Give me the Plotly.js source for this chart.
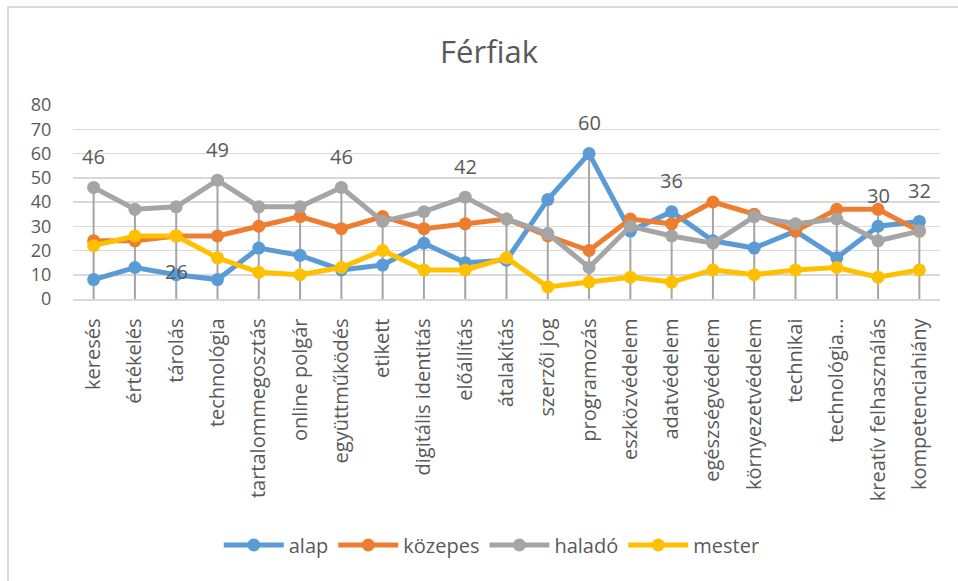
<!DOCTYPE html>
<html>
<head>
<meta charset="utf-8">
<script src="https://cdn.plot.ly/plotly-3.0.1.min.js"></script>
<style>
  html, body { margin: 0; padding: 0; background: #fff; }
  #wrap { position: relative; width: 958px; height: 581px; }
  #chart { width: 958px; height: 581px; }
  #frame { position: absolute; left: 7px; top: 6px; right: -5px; bottom: -5px;
           border-left: 2px solid #d9d9d9; border-top: 2px solid #d9d9d9; pointer-events: none; }
</style>
</head>
<body>
<div id="wrap"><div id="chart"></div><div id="frame"></div></div>
<script>
const categories = ["keresés", "értékelés", "tárolás", "technológia", "tartalommegosztás",
  "online polgár", "együttműködés", "etikett", "digitális identitás", "előállítás",
  "átalakítás", "szerzői jog", "programozás", "eszközvédelem", "adatvédelem",
  "egészségvédelem", "környezetvédelem", "technikai", "technológia…",
  "kreatív felhasználás", "kompetenciahiány"];

const alap     = [8, 13, 10, 8, 21, 18, 12, 14, 23, 15, 16, 41, 60, 28, 36, 24, 21, 28, 17, 30, 32];
const kozepes  = [24, 24, 26, 26, 30, 34, 29, 34, 29, 31, 33, 26, 20, 33, 31, 40, 35, 28, 37, 37, 28];
const halado   = [46, 37, 38, 49, 38, 38, 46, 32, 36, 42, 33, 27, 13, 30, 26, 23, 34, 31, 33, 24, 28];
const mester   = [22, 26, 26, 17, 11, 10, 13, 20, 12, 12, 17, 5, 7, 9, 7, 12, 10, 12, 13, 9, 12];

const seriesNames = ["alap", "közepes", "haladó", "mester"];

// data labels shown on the chart
const labelCategories = ["keresés", "tárolás", "technológia", "együttműködés", "előállítás",
  "programozás", "adatvédelem", "kreatív felhasználás", "kompetenciahiány"];
const labelValues = [46, 26, 49, 46, 42, 60, 36, 30, 32];

const colors = ["#5B9BD5", "#ED7D31", "#A5A5A5", "#FFC000"];
const seriesData = [alap, kozepes, halado, mester];

// drop lines from the highest point of each category down to the axis
const dropX = [], dropY = [];
categories.forEach((c, i) => {
  const m = Math.max(alap[i], kozepes[i], halado[i], mester[i]);
  dropX.push(c, c, null);
  dropY.push(0, m, null);
});

const traces = [{
  x: dropX, y: dropY, type: "scatter", mode: "lines",
  line: { color: "#A5A5A5", width: 2 }, showlegend: false, hoverinfo: "skip"
}];
seriesData.forEach((d, k) => {
  traces.push({
    x: categories, y: d, name: seriesNames[k], type: "scatter", mode: "lines+markers",
    line: { color: colors[k], width: 5 },
    marker: { color: colors[k], size: 13 }
  });
});

const annotations = labelCategories.map((c, i) => ({
  x: c, y: labelValues[i], xref: "x", yref: "y",
  text: String(labelValues[i]), showarrow: false,
  yshift: labelValues[i] === 26 ? -36 : 31,
  font: { family: "Open Sans", size: 20, color: "#595959" }
}));

const layout = {
  width: 958, height: 581,
  margin: { l: 73, r: 18, t: 105, b: 282 },
  paper_bgcolor: "#fff", plot_bgcolor: "#fff",
  font: { family: "Open Sans", color: "#595959" },
  title: { text: "Férfiak", x: 489 / 958, xref: "container", xanchor: "center",
           y: 1 - 52 / 581, yref: "container", yanchor: "middle",
           font: { family: "Open Sans", size: 31, color: "#595959" } },
  xaxis: {
    type: "category", tickangle: -90, showgrid: false, zeroline: false,
    showline: true, linecolor: "#d9d9d9", linewidth: 1.5,
    ticks: "outside", ticklen: 10, tickcolor: "rgba(0,0,0,0)",
    tickfont: { family: "Open Sans", size: 20, color: "#595959" },
    range: [-0.5, categories.length - 0.5]
  },
  yaxis: {
    range: [0, 80], dtick: 10, showgrid: true, gridcolor: "#d9d9d9", gridwidth: 1.5,
    zeroline: false, showline: false,
    ticks: "outside", ticklen: 17, tickcolor: "rgba(0,0,0,0)",
    tickfont: { family: "Open Sans", size: 18, color: "#595959" }
  },
  legend: {
    orientation: "h", x: 0.483, xanchor: "center", y: 1 - 545 / 581, yref: "container",
    yanchor: "middle", font: { family: "Open Sans", size: 20, color: "#595959" },
    itemwidth: 60, traceorder: "normal"
  },
  annotations: annotations,
  showlegend: true
};

Plotly.newPlot("chart", traces, layout, { displayModeBar: false, staticPlot: true });
</script>
</body>
</html>
